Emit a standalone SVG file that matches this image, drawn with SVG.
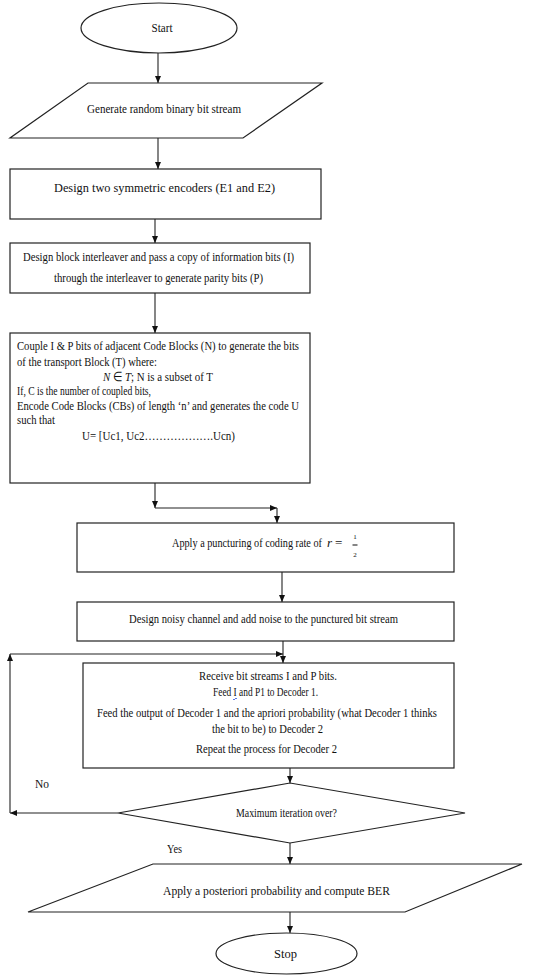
<svg xmlns="http://www.w3.org/2000/svg" width="541" height="975" viewBox="0 0 541 975">
<defs>
<marker id="ah" markerWidth="8" markerHeight="8" refX="7" refY="4" orient="auto" markerUnits="userSpaceOnUse"><path d="M0,1 L7,4 L0,7 z" fill="#111"/></marker>
</defs>
<style>
.s{fill:#fff;stroke:#222;stroke-width:1.2}
.c{fill:none;stroke:#222;stroke-width:1.1;marker-end:url(#ah)}
.n{fill:none;stroke:#222;stroke-width:1.1}
.t{font-family:'Liberation Serif','Times New Roman',serif;font-size:13px;fill:#111}
.m{text-anchor:middle}
.f{font-size:7px}
</style>
<rect width="541" height="975" fill="#fff"/>
<g id="connectors">
<path class="c" d="M158,53 V83"/>
<path class="c" d="M158,138 V169"/>
<path class="c" d="M155,219 V243"/>
<path class="c" d="M155,293 V333"/>
<path class="c" d="M155,483 V508"/>
<path class="c" d="M155,508 H277"/>
<path class="c" d="M277,508 V523"/>
<path class="c" d="M282,572 V602"/>
<path class="c" d="M283,641 V663"/>
<path class="c" d="M10,654 H283"/>
<path class="c" d="M290,768 V783"/>
<path class="c" d="M118,813 H10"/>
<path class="c" d="M10,813 V654"/>
<path class="c" d="M290,843 V864"/>
<path class="c" d="M290,912 V933"/>
</g>
<g id="start">
<ellipse class="s" cx="159" cy="28" rx="78" ry="25"/>
<text class="t m" x="162" y="32" textLength="21" lengthAdjust="spacingAndGlyphs">Start</text>
</g>
<g id="generate">
<polygon class="s" points="88,83 322,83 243,138 10,138"/>
<text class="t m" x="164" y="113" textLength="154" lengthAdjust="spacingAndGlyphs">Generate random binary bit stream</text>
</g>
<g id="encoders">
<rect class="s" x="10" y="169" width="311" height="50"/>
<text class="t m" x="164.5" y="192" textLength="221" lengthAdjust="spacingAndGlyphs">Design two symmetric encoders (E1 and E2)</text>
</g>
<g id="interleaver">
<rect class="s" x="10" y="243" width="300" height="50"/>
<text class="t m" x="158.5" y="261" textLength="271" lengthAdjust="spacingAndGlyphs">Design block interleaver and pass a copy of information bits (I)</text>
<text class="t m" x="158.5" y="282" textLength="209" lengthAdjust="spacingAndGlyphs">through the interleaver to generate parity bits (P)</text>
</g>
<g id="couple">
<rect class="s" x="10" y="333" width="300" height="150"/>
<text class="t" x="17" y="350" textLength="282" lengthAdjust="spacingAndGlyphs">Couple I &amp; P bits of adjacent Code Blocks (N) to generate the bits</text>
<text class="t" x="17" y="366" textLength="140" lengthAdjust="spacingAndGlyphs">of the transport Block (T) where:</text>
<text class="t" x="103" y="381" textLength="110" lengthAdjust="spacingAndGlyphs"><tspan font-style="italic">N</tspan> ∈ <tspan font-style="italic">T</tspan>; N is a subset of T</text>
<text class="t" x="17" y="395" textLength="134" lengthAdjust="spacingAndGlyphs">If, C is the number of coupled bits,</text>
<text class="t" x="17" y="410" textLength="282" lengthAdjust="spacingAndGlyphs">Encode Code Blocks (CBs) of length ‘n’ and generates the code U</text>
<text class="t" x="17" y="424" textLength="38" lengthAdjust="spacingAndGlyphs">such that</text>
<text class="t" x="82" y="440" textLength="153" lengthAdjust="spacingAndGlyphs">U= [Uc1, Uc2……………….Ucn)</text>
</g>
<g id="puncturing">
<rect class="s" x="77" y="523" width="377" height="49"/>
<text class="t" x="172" y="547" textLength="150" lengthAdjust="spacingAndGlyphs">Apply a puncturing of coding rate of</text>
<text class="t" x="327" y="547" font-style="italic">r</text>
<text class="t" x="335" y="547">=</text>
<text class="t m f" x="355" y="539">1</text>
<path class="n" d="M352.5,545 H357.5" stroke-width="0.8"/>
<text class="t m f" x="355" y="557">2</text>
</g>
<g id="channel">
<rect class="s" x="77" y="602" width="377" height="39"/>
<text class="t m" x="263.5" y="623" textLength="269" lengthAdjust="spacingAndGlyphs">Design noisy channel and add noise to the punctured bit stream</text>
</g>
<g id="decoder">
<rect class="s" x="83" y="663" width="371" height="105"/>
<text class="t m" x="268" y="680" textLength="138" lengthAdjust="spacingAndGlyphs">Receive bit streams I and P bits.</text>
<text class="t m" x="265.5" y="696" textLength="105" lengthAdjust="spacingAndGlyphs">Feed I and P1 to Decoder 1.</text>
<path d="M233,699 q1,2 2,0 q1,-2 2,0" fill="none" stroke="#3355dd" stroke-width="0.8"/>
<text class="t m" x="267" y="717" textLength="340" lengthAdjust="spacingAndGlyphs">Feed the output of Decoder 1 and the apriori probability (what Decoder 1 thinks</text>
<text class="t m" x="267.5" y="733" textLength="111" lengthAdjust="spacingAndGlyphs">the bit to be) to Decoder 2</text>
<text class="t m" x="266.5" y="753" textLength="141" lengthAdjust="spacingAndGlyphs">Repeat the process for Decoder 2</text>
</g>
<g id="decision">
<polygon class="s" points="118,813 290,783 465,813 290,843"/>
<text class="t m" x="286.5" y="817" textLength="101" lengthAdjust="spacingAndGlyphs">Maximum iteration over?</text>
</g>
<g id="labels">
<text class="t" x="35" y="788" textLength="14" lengthAdjust="spacingAndGlyphs">No</text>
<text class="t" x="167" y="853" textLength="15" lengthAdjust="spacingAndGlyphs">Yes</text>
</g>
<g id="ber">
<polygon class="s" points="153,864 522,864 405,912 28,912"/>
<text class="t m" x="276.5" y="895" textLength="227" lengthAdjust="spacingAndGlyphs">Apply a posteriori probability and compute BER</text>
</g>
<g id="stop">
<ellipse class="s" cx="286.5" cy="953.5" rx="70.5" ry="20.5"/>
<text class="t m" x="285.5" y="958" textLength="23" lengthAdjust="spacingAndGlyphs">Stop</text>
</g>
</svg>
